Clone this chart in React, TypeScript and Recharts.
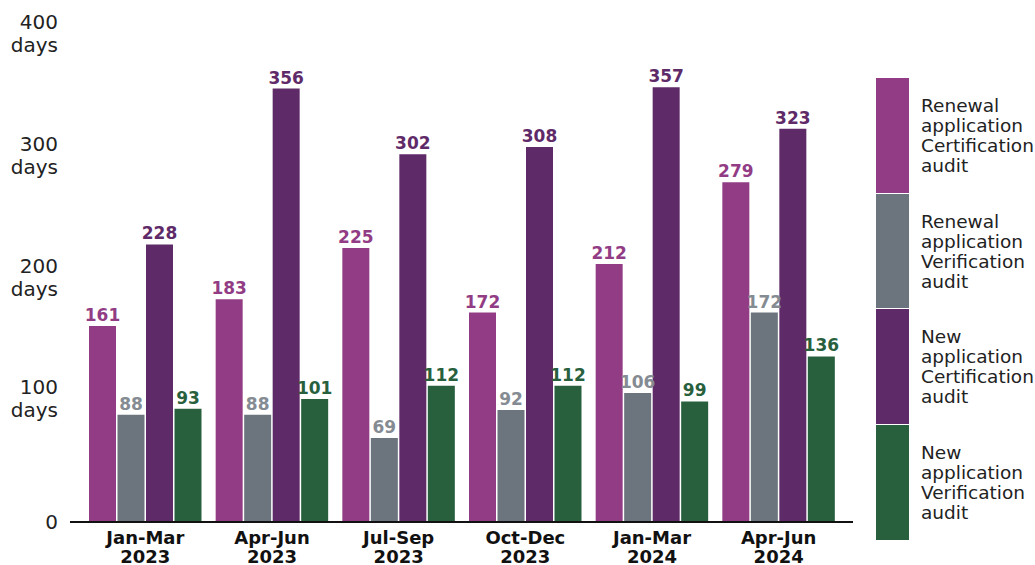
import React from 'react';
import { BarChart, Bar, XAxis, YAxis, LabelList } from 'recharts';

const quarters = ['Jan-Mar 2023', 'Apr-Jun 2023', 'Jul-Sep 2023', 'Oct-Dec 2023', 'Jan-Mar 2024', 'Apr-Jun 2024'];
const renewalCert = [161, 183, 225, 172, 212, 279];
const renewalVerif = [88, 88, 69, 92, 106, 172];
const newCert = [228, 356, 302, 308, 357, 323];
const newVerif = [93, 101, 112, 112, 99, 136];
const yTicks = [0, 100, 200, 300, 400];

const series = [
  { key: 'renewalCert', lines: ['Renewal', 'application', 'Certification', 'audit'], color: '#913c84', label: '#913c84' },
  { key: 'renewalVerif', lines: ['Renewal', 'application', 'Verification', 'audit'], color: '#6c757d', label: '#848b92' },
  { key: 'newCert', lines: ['New', 'application', 'Certification', 'audit'], color: '#5f2a68', label: '#5f2a68' },
  { key: 'newVerif', lines: ['New', 'application', 'Verification', 'audit'], color: '#28603e', label: '#28603e' },
];

const data = quarters.map((q, i) => ({
  quarter: q,
  renewalCert: renewalCert[i],
  renewalVerif: renewalVerif[i],
  newCert: newCert[i],
  newVerif: newVerif[i],
}));

const font = 'DejaVu Sans, sans-serif';

const YTick = (props: any) => {
  const { x, y, payload } = props;
  if (payload.value === 0) {
    return (
      <text x={x} y={y} dy={7} textAnchor="end" fontSize={20} fill="#222" fontFamily={font}>0</text>
    );
  }
  return (
    <text x={x} y={y} textAnchor="end" fontSize={20} fill="#222" fontFamily={font}>
      <tspan x={x} dy={-6}>{payload.value}</tspan>
      <tspan x={x} dy={23}>days</tspan>
    </text>
  );
};

const XTick = (props: any) => {
  const { x, y, payload } = props;
  const [a, b] = String(payload.value).split(' ');
  return (
    <text x={x} y={y} textAnchor="middle" fontSize={18} fontWeight="bold" fill="#111" fontFamily={font}>
      <tspan x={x} dy={14}>{a}</tspan>
      <tspan x={x} dy={19}>{b}</tspan>
    </text>
  );
};

export default function App() {
  return (
    <div style={{ position: 'absolute', left: 0, top: 0, width: 1035, height: 565, background: '#fff' }}>
      <BarChart
        width={1035}
        height={565}
        data={data}
        margin={{ top: 35, right: 182, bottom: 0, left: 8 }}
        barCategoryGap={7}
        barGap={1.5}
      >
        <XAxis
          dataKey="quarter"
          tick={<XTick />}
          tickLine={false}
          axisLine={{ stroke: '#111', strokeWidth: 2 }}
          interval={0}
          height={43}
          padding={{ left: 12, right: 11 }}
        />
        <YAxis
          domain={[0, 400]}
          ticks={yTicks}
          tick={<YTick />}
          tickLine={false}
          axisLine={false}
          width={62}
          tickMargin={6}
        />
        {series.map((s) => (
          <Bar key={s.key} dataKey={s.key} fill={s.color} isAnimationActive={false}>
            <LabelList
              dataKey={s.key}
              position="top"
              offset={5}
              fill={s.label}
              fontSize={17}
              fontWeight="bold"
              fontFamily={font}
            />
          </Bar>
        ))}
      </BarChart>
      <div style={{ position: 'absolute', left: 876, top: 78, fontFamily: font, fontSize: 18.5, color: '#222' }}>
        {series.map((s) => (
          <div key={s.key} style={{ display: 'flex', alignItems: 'center', height: 115.7 }}>
            <div style={{ width: 33, height: 114.7, background: s.color, marginRight: 12, alignSelf: 'flex-start' }} />
            <div style={{ lineHeight: '20px' }}>
              {s.lines.map((w, i) => (
                <div key={i}>{w}</div>
              ))}
            </div>
          </div>
        ))}
      </div>
    </div>
  );
}
